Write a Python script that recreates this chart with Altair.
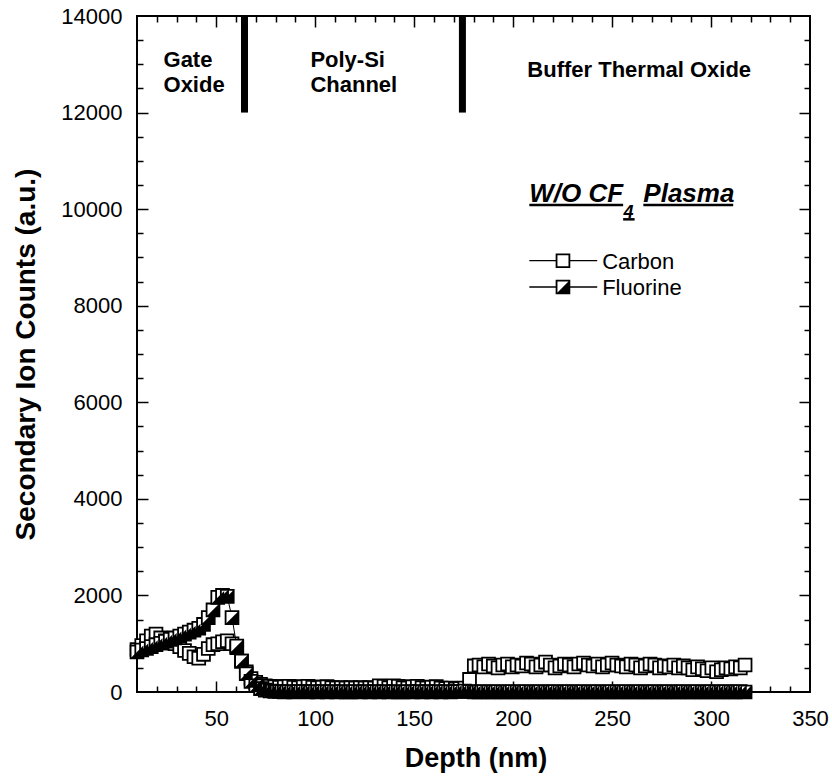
import altair as alt
import pandas as pd

FONT = "Liberation Sans"

# ---------------- data ----------------
depth = [
    10.0, 12.4, 14.8, 17.2, 19.6, 22.0, 24.4, 26.8, 29.2, 31.6,
    34.0, 36.4, 38.8, 41.2, 43.6, 46.0, 48.4, 50.8, 53.2, 55.6,
    58.0, 60.4, 62.8, 65.2, 67.6, 70.0, 72.4, 74.8, 77.2, 79.6,
    82.0, 84.4, 86.8, 89.2, 91.6, 94.0, 96.4, 98.8, 101.2, 103.6,
    106.0, 108.4, 110.8, 113.2, 115.6, 118.0, 120.4, 122.8, 125.2, 127.6,
    130.0, 132.4, 134.8, 137.2, 139.6, 142.0, 144.4, 146.8, 149.2, 151.6,
    154.0, 156.4, 158.8, 161.2, 163.6, 166.0, 168.4, 170.8, 173.2, 175.6,
    178.0, 180.4, 182.8, 185.2, 187.6, 190.0, 192.4, 194.8, 197.2, 199.6,
    202.0, 204.4, 206.8, 209.2, 211.6, 214.0, 216.4, 218.8, 221.2, 223.6,
    226.0, 228.4, 230.8, 233.2, 235.6, 238.0, 240.4, 242.8, 245.2, 247.6,
    250.0, 252.4, 254.8, 257.2, 259.6, 262.0, 264.4, 266.8, 269.2, 271.6,
    274.0, 276.4, 278.8, 281.2, 283.6, 286.0, 288.4, 290.8, 293.2, 295.6,
    298.0, 300.4, 302.8, 305.2, 307.6, 310.0, 312.4, 314.8, 317.2,
]

carbon = [
    880, 960, 1060, 1160, 1200, 1120, 1060, 1040, 1000, 940,
    860, 800, 730, 700, 780, 900, 980, 1000, 1040, 1060,
    1000, 920, 640, 420, 280, 200, 160, 130, 120, 110,
    100, 110, 120, 100, 90, 110, 120, 100, 90, 100,
    110, 90, 80, 90, 80, 90, 80, 90, 80, 90,
    80, 130, 120, 90, 130, 120, 90, 80, 110, 120,
    90, 80, 100, 110, 80, 70, 80, 60, 70, 80,
    260, 540, 560, 520, 580, 540, 500, 560, 580, 520,
    560, 540, 600, 580, 520, 560, 620, 560, 500, 540,
    580, 560, 520, 580, 600, 560, 540, 580, 520, 560,
    600, 560, 540, 520, 580, 560, 500, 540, 580, 560,
    500, 540, 520, 560, 500, 540, 500, 460, 520, 480,
    440, 500, 420, 460, 500, 480, 520, 500, 560,
]

fluorine = [
    830, 870, 900, 940, 980, 1010, 1050, 1090, 1120, 1160,
    1200, 1240, 1280, 1320, 1400, 1540, 1700, 1960, 2000, 1980,
    1540, 950, 640, 380, 220, 130, 70, 40, 20, 10,
    10, 0, 10, 0, 10, 10, 0, 10, 0, 10,
    0, 10, 0, 10, 0, 0, 10, 0, 10, 0,
    10, 0, 10, 0, 10, 0, 0, 10, 0, 10,
    0, 10, 0, 10, 0, 10, 0, 10, 10, 20,
    10, 0, 0, 10, 0, 0, 10, 0, 0, 10,
    0, 0, 10, 0, 0, 10, 0, 0, 10, 0,
    0, 10, 0, 0, 10, 0, 0, 10, 0, 0,
    10, 0, 0, 10, 0, 0, 10, 0, 0, 10,
    0, 0, 10, 0, 0, 10, 0, 0, 10, 0,
    0, 10, 0, 0, 10, 0, 0, 10, 0,
]

series_names = ["Carbon", "Fluorine"]

x_label_values = [50, 100, 150, 200, 250, 300, 350]
x_major_ticks = [50, 100, 150, 200, 250, 300]
x_minor_ticks = [20, 30, 40, 60, 70, 80, 90, 110, 120, 130, 140, 160, 170, 180, 190,
                 210, 220, 230, 240, 260, 270, 280, 290, 310, 320, 330, 340]
y_label_values = [0, 2000, 4000, 6000, 8000, 10000, 12000, 14000]
y_major_ticks = [2000, 4000, 6000, 8000, 10000, 12000]
y_minor_ticks = [500, 1000, 1500, 2500, 3000, 3500, 4500, 5000, 5500, 6500, 7000, 7500,
                 8500, 9000, 9500, 10500, 11000, 11500, 12500, 13000, 13500]

region_labels = ["Gate", "Oxide", "Poly-Si", "Channel", "Buffer Thermal Oxide"]
legend_labels = ["Carbon", "Fluorine"]

# ---------------- tables ----------------
df = pd.DataFrame({
    "depth": depth * 2,
    "value": carbon + fluorine,
    "series": [series_names[0]] * len(depth) + [series_names[1]] * len(depth),
})
dfc = df[df.series == "Carbon"]
dff = df[df.series == "Fluorine"]

W, H = 673, 676
xs = alt.Scale(domain=[10, 350], nice=False, zero=False)
ys = alt.Scale(domain=[0, 14000], nice=False, zero=False)

def X(field, axis=None):
    return alt.X(field, type="quantitative", scale=xs, axis=axis)

def Y(field, axis=None):
    return alt.Y(field, type="quantitative", scale=ys, axis=axis)

SQUARE_SIZE = 165
STROKE = 1.8
TRI = "M 1 -1 L 1 1 L -1 1 Z"

def squares(data):
    return alt.Chart(data).mark_point(shape="square", filled=True, fill="white", stroke="black",
                                      strokeWidth=STROKE, size=SQUARE_SIZE, opacity=1)

def triangles(data):
    return alt.Chart(data).mark_point(shape=TRI, filled=True, fill="black", strokeWidth=0,
                                      size=SQUARE_SIZE, opacity=1)

line_c = alt.Chart(dfc).mark_line(color="black", strokeWidth=1).encode(x=X("depth"), y=Y("value"))
pts_c = squares(dfc).encode(x=X("depth"), y=Y("value"))
line_f = alt.Chart(dff).mark_line(color="black", strokeWidth=1).encode(x=X("depth"), y=Y("value"))
pts_f = squares(dff).encode(x=X("depth"), y=Y("value"))
tri_f = triangles(dff).encode(x=X("depth"), y=Y("value"))

# region separators
bars = alt.Chart(pd.DataFrame({"x": [64.3, 174.4], "y1": [12000, 12000], "y2": [14000, 14000]})).mark_rule(
    color="black", strokeWidth=7).encode(x=X("x"), y=Y("y1"), y2="y2")

# region texts
reg_df = pd.DataFrame({
    "label": region_labels,
    "x": [23.4, 23.4, 97.6, 97.6, 207.2],
    "y": [13090, 12570, 13090, 12570, 12880],
})
reg_text = alt.Chart(reg_df).mark_text(align="left", baseline="middle", font=FONT, fontSize=22,
                                       fontWeight="bold", color="black").encode(x=X("x"), y=Y("y"), text="label")

# title "W/O CF4 Plasma"
t_main = alt.Chart(pd.DataFrame({"label": ["W/O CF", "Plasma"], "x": [208.2, 265.8], "y": [10154, 10154]})).mark_text(
    align="left", baseline="alphabetic", font=FONT, fontSize=26, fontWeight="bold", fontStyle="italic",
    color="black").encode(x=X("x"), y=Y("y"), text="label")
t_sub = alt.Chart(pd.DataFrame({"label": ["4"], "x": [255.8], "y": [9817]})).mark_text(
    align="left", baseline="alphabetic", font=FONT, fontSize=18, fontWeight="bold", fontStyle="italic",
    color="black").encode(x=X("x"), y=Y("y"), text="label")
t_ul = alt.Chart(pd.DataFrame({"x1": [208.2, 265.8, 255.6], "x2": [255.6, 311.2, 261.4],
                               "y": [10087, 10087, 9789]})).mark_rule(color="black", strokeWidth=2.5).encode(
    x=X("x1"), x2="x2", y=Y("y"))

# legend
leg_df = pd.DataFrame({"label": legend_labels, "x1": [208.2, 208.2], "x2": [242.5, 242.5],
                       "xm": [225.2, 225.2], "xt": [245.0, 245.0], "y": [8932, 8388], "yt": [8900, 8360]})
leg_line = alt.Chart(leg_df).mark_rule(color="black", strokeWidth=1.3).encode(x=X("x1"), x2="x2", y=Y("y"))
leg_sq = squares(leg_df).encode(x=X("xm"), y=Y("y"))
leg_tri = triangles(leg_df[leg_df.label == "Fluorine"]).encode(x=X("xm"), y=Y("y"))
leg_text = alt.Chart(leg_df).mark_text(align="left", baseline="middle", font=FONT, fontSize=22,
                                       color="black").encode(x=X("xt"), y=Y("yt"), text="label")

# ---------------- axes (labels outside, ticks inside on all four sides) ----------------
ax_x_main = alt.Axis(values=x_label_values, ticks=False, tickSize=0, domain=False, grid=False,
                     labels=True, labelFont=FONT, labelFontSize=22, labelColor="black", labelPadding=16,
                     labelFlush=False, format="d",
                     title="Depth (nm)", titleFont=FONT, titleFontSize=27, titleFontWeight="bold",
                     titleColor="black", titleX=W / 2 + 2, titleY=66, titleAlign="center", titleBaseline="middle")
ax_y_main = alt.Axis(values=y_label_values, ticks=False, tickSize=0, domain=False, grid=False,
                     labels=True, labelFont=FONT, labelFontSize=22, labelColor="black", labelPadding=15,
                     format="d",
                     title="Secondary Ion Counts (a.u.)", titleFont=FONT, titleFontSize=28, titleFontWeight="bold",
                     titleColor="black", titleX=-111, titleY=H / 2, titleAngle=-90, titleAlign="center",
                     titleBaseline="middle")

def tick_axis(orient, offset, vals, size):
    return alt.Axis(orient=orient, offset=offset, values=vals, labels=False, ticks=True, tickSize=size,
                    tickWidth=1.5, tickColor="black", domain=False, grid=False, title=None)

pts_for_axes = alt.Chart(df).mark_point(opacity=0)
axis_layers = [
    pts_for_axes.encode(x=X("depth", ax_x_main), y=Y("value", ax_y_main)),
    pts_for_axes.encode(x=X("depth", tick_axis("top", -H, x_major_ticks, 11)),
                        y=Y("value", tick_axis("right", -W, y_major_ticks, 11))),
    pts_for_axes.encode(x=X("depth", tick_axis("top", -H, x_minor_ticks, 6)),
                        y=Y("value", tick_axis("right", -W, y_minor_ticks, 6))),
    pts_for_axes.encode(x=X("depth", tick_axis("bottom", -H, x_major_ticks, 11)),
                        y=Y("value", tick_axis("left", -W, y_major_ticks, 11))),
    pts_for_axes.encode(x=X("depth", tick_axis("bottom", -H, x_minor_ticks, 6)),
                        y=Y("value", tick_axis("left", -W, y_minor_ticks, 6))),
]

chart = alt.layer(
    *axis_layers,
    bars, reg_text,
    line_c, pts_c, line_f, pts_f, tri_f,
    t_main, t_sub, t_ul,
    leg_line, leg_sq, leg_tri, leg_text,
).resolve_axis(x="independent", y="independent").properties(
    width=W, height=H,
    padding={"left": 137, "top": 16, "right": 22, "bottom": 88},
    autosize=alt.AutoSizeParams(type="none"),
    background="white",
).configure_view(stroke="black", strokeWidth=2)

chart.save("out.html", embed_options={"renderer": "svg", "actions": False})
